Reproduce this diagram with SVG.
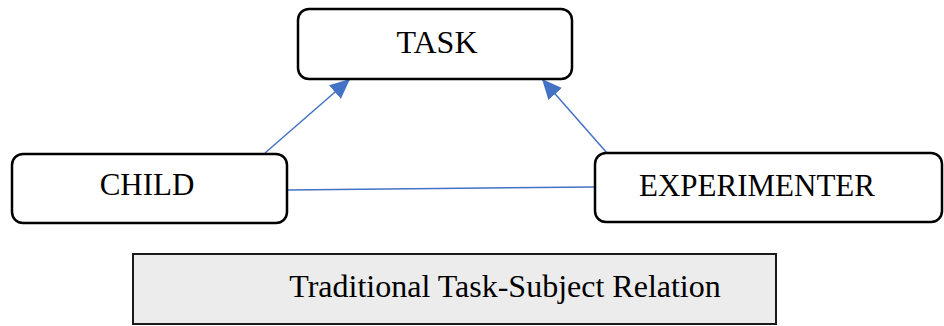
<svg xmlns="http://www.w3.org/2000/svg" width="944" height="326" viewBox="0 0 944 326">
  <style>
    .box { fill: #ffffff; stroke: #000000; stroke-width: 2.5; }
    .caption { fill: #ececec; stroke: #1a1a1a; stroke-width: 2; }
    .label { font-family: "Liberation Serif", "Times New Roman", serif; fill: #000000; text-anchor: middle; }
    .link { stroke: #4472c4; stroke-width: 1.5; fill: none; }
  </style>
  <defs>
    <marker id="arrow" markerUnits="userSpaceOnUse" markerWidth="22" markerHeight="20" refX="20" refY="9" orient="auto">
      <path d="M0,0 L20,9 L0,18 Z" fill="#4472c4"/>
    </marker>
  </defs>

  <g id="connectors">
    <line class="link" x1="265" y1="153" x2="350" y2="79" marker-end="url(#arrow)"/>
    <line class="link" x1="607" y1="153" x2="542" y2="79" marker-end="url(#arrow)"/>
    <line class="link" x1="287" y1="190" x2="595" y2="187"/>
  </g>

  <g id="task">
    <rect class="box" x="298" y="9" width="274" height="70" rx="11"/>
    <text class="label" x="437" y="53" font-size="32">TASK</text>
  </g>

  <g id="child">
    <rect class="box" x="12" y="154" width="275" height="69" rx="11"/>
    <text class="label" x="147" y="195" font-size="31">CHILD</text>
  </g>

  <g id="experimenter">
    <rect class="box" x="595" y="153" width="347" height="69" rx="11"/>
    <text class="label" x="757" y="196" font-size="31">EXPERIMENTER</text>
  </g>

  <g id="caption">
    <rect class="caption" x="133" y="254" width="643" height="70"/>
    <text class="label" x="505" y="297" font-size="32">Traditional Task-Subject Relation</text>
  </g>
</svg>
